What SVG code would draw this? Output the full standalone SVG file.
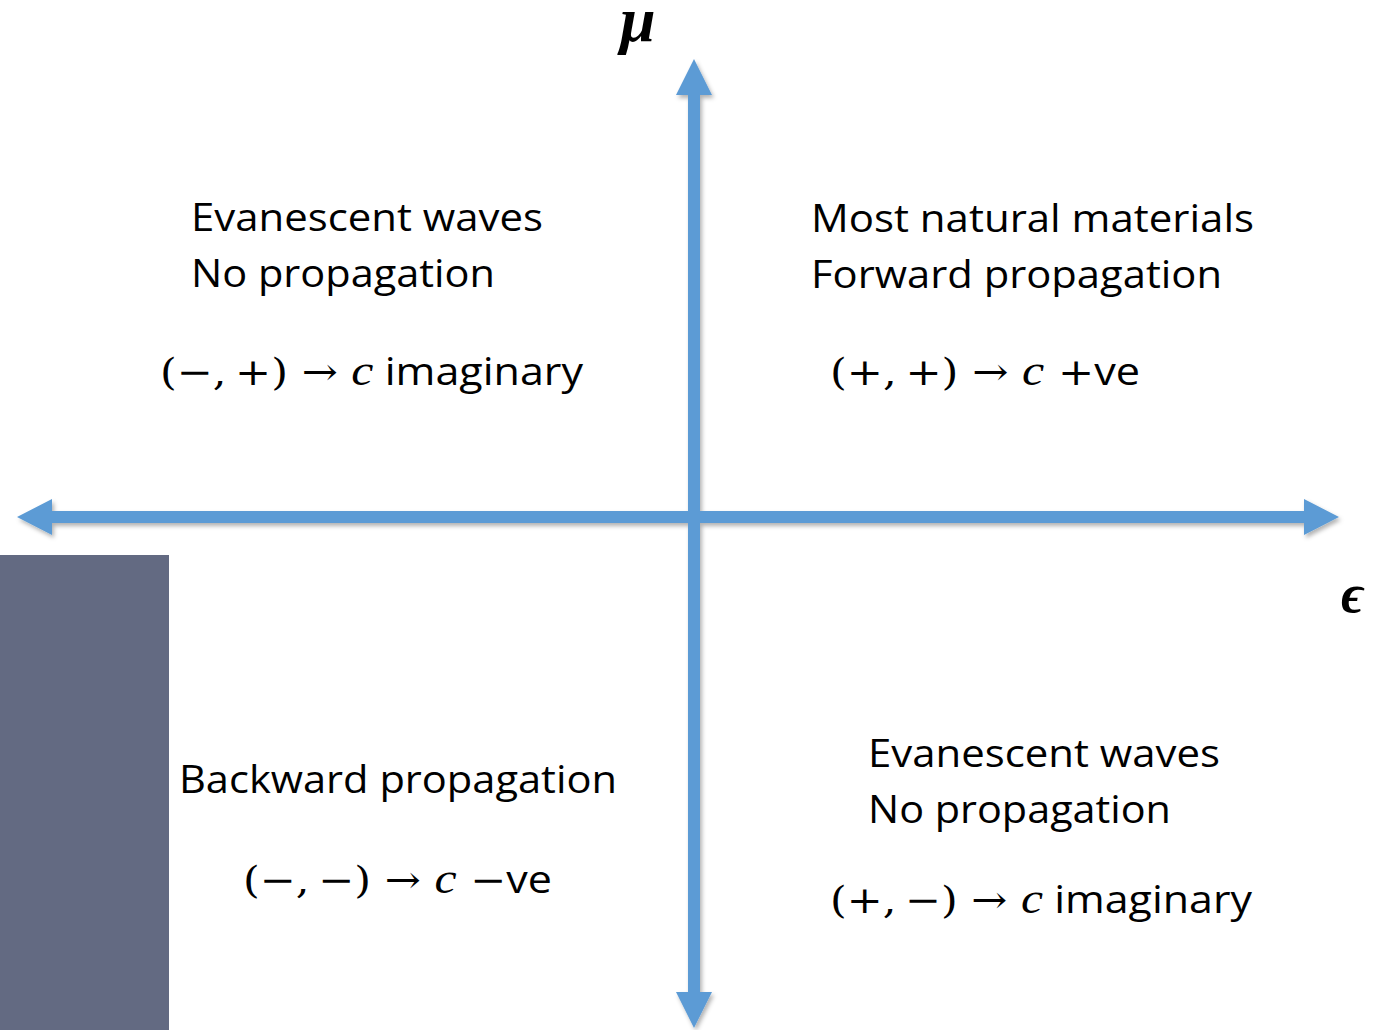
<svg xmlns="http://www.w3.org/2000/svg" width="1378" height="1030" viewBox="0 0 1378 1030">
<style>
.t{font-family:"Open Sans","Noto Sans","Liberation Sans",sans-serif;font-size:38px;fill:#000}
.m{font-family:"DejaVu Serif","Liberation Serif",serif}
.i{font-family:"Liberation Serif",serif;font-style:italic;font-size:44px}
.ax{fill:#5b9bd5}
.sym{font-family:"Liberation Serif","DejaVu Serif",serif;font-weight:bold;font-style:italic;fill:#000}
</style>
<defs>
<filter id="sh" x="-5%" y="-5%" width="110%" height="110%">
<feDropShadow dx="2" dy="3" stdDeviation="2" flood-color="#000" flood-opacity="0.3"/>
</filter>
</defs>
<rect width="1378" height="1030" fill="#fff"/>
<g id="panel"><rect x="0" y="555" width="169" height="475" fill="#636a82"/></g>
<g id="axes" filter="url(#sh)">
<polygon class="ax" points="52,511 1304,511 1304,499 1339,517 1304,535 1304,523 52,523 52,535 17,517 52,499"/>
<polygon class="ax" points="688,95 676,95 694,59 712,95 700,95 700,992 712,992 694,1028 676,992 688,992"/>
</g>
<g id="labels">
<text class="sym" x="620" y="41" font-size="64">μ</text>
<text class="sym" x="1341" y="612" font-size="54">ϵ</text>
</g>
<g id="q2">
<text class="t" x="191" y="231" textLength="352" lengthAdjust="spacingAndGlyphs">Evanescent waves</text>
<text class="t" x="191" y="287" textLength="304" lengthAdjust="spacingAndGlyphs">No propagation</text>
<text class="t" x="160" y="385" textLength="423" lengthAdjust="spacingAndGlyphs"><tspan class="m">(−,&#8201;+) → </tspan><tspan class="i">c</tspan> imaginary</text>
</g>
<g id="q1">
<text class="t" x="811" y="232" textLength="443" lengthAdjust="spacingAndGlyphs">Most natural materials</text>
<text class="t" x="811" y="288" textLength="411" lengthAdjust="spacingAndGlyphs">Forward propagation</text>
<text class="t" x="830" y="385" textLength="310" lengthAdjust="spacingAndGlyphs"><tspan class="m">(+,&#8201;+) → </tspan><tspan class="i">c</tspan><tspan class="m"> +</tspan>ve</text>
</g>
<g id="q3">
<text class="t" x="179" y="793" textLength="438" lengthAdjust="spacingAndGlyphs">Backward propagation</text>
<text class="t" x="243" y="893" textLength="309" lengthAdjust="spacingAndGlyphs"><tspan class="m">(−,&#8201;−) → </tspan><tspan class="i">c</tspan><tspan class="m"> −</tspan>ve</text>
</g>
<g id="q4">
<text class="t" x="868" y="767" textLength="352" lengthAdjust="spacingAndGlyphs">Evanescent waves</text>
<text class="t" x="868" y="823" textLength="303" lengthAdjust="spacingAndGlyphs">No propagation</text>
<text class="t" x="830" y="913" textLength="422" lengthAdjust="spacingAndGlyphs"><tspan class="m">(+,&#8201;−) → </tspan><tspan class="i">c</tspan> imaginary</text>
</g>
</svg>
